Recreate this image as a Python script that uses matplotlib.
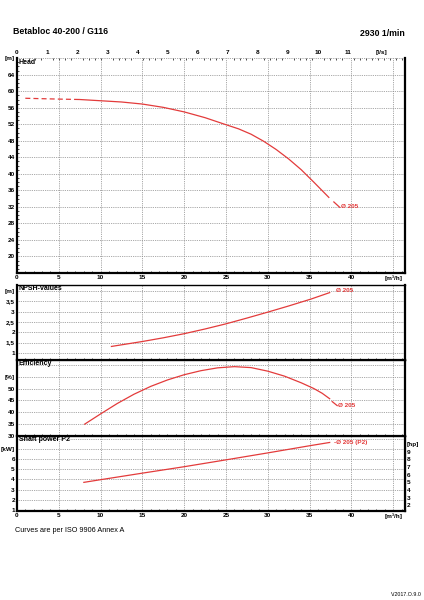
import numpy as np
import matplotlib.pyplot as plt
from matplotlib.ticker import MultipleLocator

plt.rcParams['font.family'] = ['Liberation Sans', 'DejaVu Sans']
plt.rcParams['font.weight'] = 'bold'

# flow axis (m3/h)
q_ticks = [0, 5, 10, 15, 20, 25, 30, 35, 40, 45]
q_labels = ['0', '5', '10', '15', '20', '25', '30', '35', '40', '[m³/h]']
ls_ticks = [0, 1, 2, 3, 4, 5, 6, 7, 8, 9, 10, 11, 12.1]
ls_labels = ['0', '1', '2', '3', '4', '5', '6', '7', '8', '9', '10', '11', '[l/s]']

# head curve
head_dash_q = [1.0, 3.0, 5.0, 7.5]
head_dash_h = [58.3, 58.2, 58.1, 58.0]
head_q = [7.5, 10, 12.5, 15, 17.5, 20, 22.5, 25, 26.5, 28, 29.5, 31, 32.5, 34, 35.5, 37.3]
head_h = [58.0, 57.7, 57.4, 56.9, 56.1, 55.0, 53.6, 51.9, 50.9, 49.6, 47.9, 45.9, 43.6, 41.0, 38.0, 34.3]
head_tip_q = [37.9, 38.6]
head_tip_h = [33.2, 31.9]

# NPSH
npsh_q = [11.3, 15, 17.5, 20, 22.5, 25, 27.5, 30, 32.5, 35.2, 37.4]
npsh_v = [1.31, 1.55, 1.73, 1.93, 2.16, 2.41, 2.69, 2.98, 3.28, 3.62, 3.93]

# efficiency
eff_q = [8.1, 10, 12, 14, 16, 18, 20, 22, 24, 26, 28, 30, 32, 34, 35.5, 36.5, 37.4]
eff_v = [35.0, 39.3, 43.7, 47.6, 50.9, 53.6, 55.8, 57.5, 58.7, 59.2, 58.8, 57.3, 55.2, 52.4, 50.0, 48.0, 45.7]
eff_tip_q = [37.7, 38.3]
eff_tip_v = [44.5, 42.8]

# shaft power
pow_q = [8.0, 10, 15, 20, 25, 30, 35, 37.4]
pow_kw = [3.72, 3.98, 4.62, 5.25, 5.92, 6.6, 7.3, 7.62]
hp_ticks = [2, 3, 4, 5, 6, 7, 8, 9, 10]
hp_labels = ['2', '3', '4', '5', '6', '7', '8', '9', '[hp]']

red = '#e33b3b'
fs = 4.6

fig = plt.figure(figsize=(4.24, 6.0), dpi=100)
ax_h = fig.add_axes([0.040, 0.545, 0.915, 0.358])
ax_n = fig.add_axes([0.040, 0.400, 0.915, 0.125])
ax_e = fig.add_axes([0.040, 0.2733, 0.915, 0.1267])
ax_p = fig.add_axes([0.040, 0.148, 0.915, 0.1253])


def setup(ax, ylim, yticks, ylabels, title, xlabels):
    ax.set_xlim(0, 46.4)
    ax.set_ylim(*ylim)
    ax.set_xticks(q_ticks)
    ax.set_yticks(yticks)
    ax.set_yticklabels(ylabels)
    if xlabels:
        ax.set_xticklabels(q_labels)
    else:
        ax.set_xticklabels([])
    ax.xaxis.set_minor_locator(MultipleLocator(1))
    ax.grid(True, color='#8a8a8a', linestyle=(0, (1, 1.2)), linewidth=0.6)
    ax.tick_params(axis='both', which='major', direction='in', length=0,
                   labelsize=fs, pad=1.5)
    ax.tick_params(axis='x', which='minor', direction='in', length=1.5, width=0.5)
    for s in ['left', 'right', 'bottom']:
        ax.spines[s].set_linewidth(1.6)
    ax.spines['top'].set_linewidth(1.0)
    ax.text(0.004, 0.995, title, transform=ax.transAxes, ha='left', va='top',
            fontsize=5.0, fontweight='bold')


# head
setup(ax_h, (16, 68), list(range(20, 69, 4)),
      [str(v) for v in range(20, 65, 4)] + ['[m]'], 'Head', True)
ax_h.spines['top'].set_visible(False)
ax_h.yaxis.set_minor_locator(MultipleLocator(1))
ax_h.tick_params(axis='y', which='minor', direction='in', length=1.2, width=0.5)
ax_h.plot(head_dash_q, head_dash_h, color=red, lw=0.9, ls=(0, (4, 2.5)))
ax_h.plot(head_q, head_h, color=red, lw=0.9)
ax_h.plot(head_tip_q, head_tip_h, color=red, lw=0.9)
ax_h.text(38.7, 32.0, 'Ø 205', color=red, fontsize=fs, fontweight='bold',
          va='center', ha='left')

top = ax_h.secondary_xaxis('top', functions=(lambda q: q / 3.6, lambda l: l * 3.6))
top.set_xticks(ls_ticks)
top.set_xticklabels(ls_labels)
top.xaxis.set_minor_locator(MultipleLocator(0.2))
top.tick_params(axis='x', which='major', direction='in', length=0, labelsize=fs, pad=2)
top.tick_params(axis='x', which='minor', direction='in', length=1.2, width=0.5)
top.spines['top'].set_visible(False)

# npsh
setup(ax_n, (0.65, 4.3), [1, 1.5, 2, 2.5, 3, 3.5, 4],
      ['1', '1,5', '2', '2,5', '3', '3,5', '[m]'], 'NPSH-values', False)
ax_n.plot(npsh_q, npsh_v, color=red, lw=0.9)
ax_n.text(38.2, 4.03, 'Ø 205', color=red, fontsize=fs, fontweight='bold',
          va='center', ha='left')

# efficiency
setup(ax_e, (30, 62), [30, 35, 40, 45, 50, 55, 60],
      ['30', '35', '40', '45', '50', '[%]', ''], 'Efficiency', False)
ax_e.plot(eff_q, eff_v, color=red, lw=0.9)
ax_e.plot(eff_tip_q, eff_tip_v, color=red, lw=0.9)
ax_e.text(38.4, 42.7, 'Ø 205', color=red, fontsize=fs, fontweight='bold',
          va='center', ha='left')

# shaft power
setup(ax_p, (0.9, 8.25), [1, 2, 3, 4, 5, 6, 7, 8],
      ['1', '2', '3', '4', '5', '6', '[kW]', ''], 'Shaft power P2', True)
ax_p.plot(pow_q, pow_kw, color=red, lw=0.9)
ax_p.text(37.9, 7.6, '-Ø 205 (P2)', color=red, fontsize=fs, fontweight='bold',
          va='center', ha='left')
right = ax_p.secondary_yaxis('right', functions=(lambda k: k / 0.7457, lambda h: h * 0.7457))
right.set_yticks(hp_ticks)
right.set_yticklabels(hp_labels)
right.tick_params(axis='y', direction='in', length=0, labelsize=fs, pad=1.5)

fig.text(0.030, 0.948, 'Betabloc 40-200 / G116', fontsize=6.3, fontweight='bold',
         ha='left', va='center')
fig.text(0.955, 0.945, '2930 1/min', fontsize=6.3, fontweight='bold',
         ha='right', va='center')
fig.text(0.035, 0.115, 'Curves are per ISO 9906 Annex A', fontsize=5.2,
         fontweight='normal', ha='left', va='center')
fig.text(0.995, 0.005, 'V.2017.O.9.0', fontsize=3.8, fontweight='normal',
         ha='right', va='bottom')

fig.savefig('out.png', dpi=100)
